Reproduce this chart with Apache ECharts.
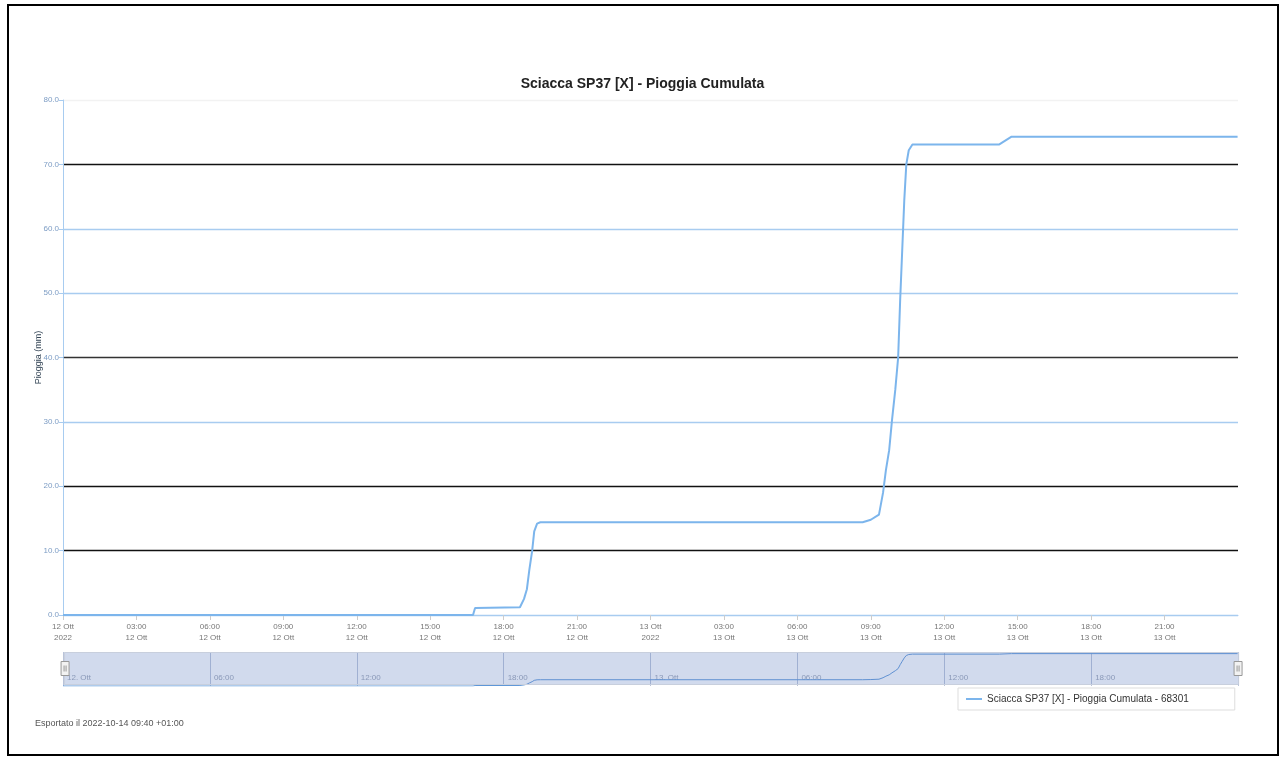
<!DOCTYPE html>
<html>
<head>
<meta charset="utf-8">
<script src="https://cdn.jsdelivr.net/npm/echarts@6/dist/echarts.min.js"></script>
<style>
html,body{margin:0;padding:0;background:#fff;}
#chart{width:1285px;height:760px;}
</style>
</head>
<body>
<div id="chart"></div>
<script>
// ---- data ----
const times = [
  '2022-10-12 00:00','2022-10-12 16:45','2022-10-12 16:50','2022-10-12 18:40','2022-10-12 18:50',
  '2022-10-12 18:57','2022-10-12 19:03','2022-10-12 19:10','2022-10-12 19:15','2022-10-12 19:22',
  '2022-10-12 19:30','2022-10-13 08:40','2022-10-13 09:00','2022-10-13 09:20','2022-10-13 09:30',
  '2022-10-13 09:37','2022-10-13 09:45','2022-10-13 09:52','2022-10-13 10:00','2022-10-13 10:07',
  '2022-10-13 10:12','2022-10-13 10:17','2022-10-13 10:22','2022-10-13 10:27','2022-10-13 10:33',
  '2022-10-13 10:42','2022-10-13 14:15','2022-10-13 14:45','2022-10-13 23:59'
];
const values = [
  0, 0, 1.1, 1.2, 2.5,
  4.0, 7.0, 10.0, 13.0, 14.2,
  14.4, 14.4, 14.8, 15.6, 19.0,
  22.5, 25.6, 30.3, 35.0, 40.0,
  49.0, 56.7, 64.4, 70.0, 72.2,
  73.1, 73.1, 74.3, 74.3
];
const chartTitle = 'Sciacca SP37 [X] - Pioggia Cumulata';
const seriesName = 'Sciacca SP37 [X] - Pioggia Cumulata - 68301';
const yAxisName = 'Pioggia (mm)';
const footerText = 'Esportato il 2022-10-14 09:40 +01:00';
const xStart = '2022-10-12 00:00';
const xEnd = '2022-10-14 00:00';
const monthLabel = 'Ott';
const yMin = 0, yMax = 80, yStep = 10;

function parse(s){
  const [d,t] = s.split(' ');
  const [Y,M,D] = d.split('-').map(Number);
  const [h,m] = t.split(':').map(Number);
  return Date.UTC(Y, M-1, D, h, m);
}
const H = 3600*1000;
const data = times.map((t,i)=>[parse(t), values[i]]);
const pad = n => (n<10?'0':'')+n;

const chart = echarts.init(document.getElementById('chart'), null, {renderer:'canvas'});
const option = {
  backgroundColor:'#fff',
  animation:false,
  title:{
    text: chartTitle, left:'center', top:72,
    textStyle:{fontFamily:'Liberation Sans, Arial', fontSize:14, fontWeight:'bold', color:'#222'}
  },
  legend:{
    left:958, top:688, width:272,
    padding:[6,46,6,8],
    borderColor:'#ddd', borderWidth:1,
    itemWidth:16, itemHeight:2, itemGap:5,
    data:[{name:seriesName, icon:'rect'}],
    textStyle:{fontFamily:'Liberation Sans, Arial', fontSize:10, color:'#333'}
  },
  grid:[
    {left:63, right:47, top:100, height:515},
    {left:63, right:47, top:652, height:34}
  ],
  xAxis:[
    {
      type:'value', gridIndex:0,
      min: parse(xStart), max: parse(xEnd), interval: 3*H,
      axisLine:{show:true, lineStyle:{color:'#a8ccf0', width:1}},
      axisTick:{show:true, length:5, lineStyle:{color:'#ccc'}},
      splitLine:{show:false},
      axisLabel:{
        showMaxLabel:false, fontSize:8, color:'#777', lineHeight:11, margin:6,
        fontFamily:'Liberation Sans, Arial',
        formatter: v => {
          const d = new Date(v);
          const day = d.getUTCDate();
          if (d.getUTCHours()===0) return day+' '+monthLabel+'\n'+d.getUTCFullYear();
          return pad(d.getUTCHours())+':00\n'+day+' '+monthLabel;
        }
      }
    },
    {
      type:'value', gridIndex:1,
      min: parse(xStart), max: parse(xEnd), interval: 6*H,
      axisLine:{show:false}, axisTick:{show:false},
      splitLine:{show:true, lineStyle:{color:'#b9c3d9', width:1}},
      axisLabel:{
        inside:true, showMaxLabel:false, fontSize:8, color:'#9aa2b4', align:'left', padding:[0,0,0,4], margin:4,
        fontFamily:'Liberation Sans, Arial',
        formatter: v => {
          const d = new Date(v);
          if (d.getUTCHours()===0) return d.getUTCDate()+'. '+monthLabel;
          return pad(d.getUTCHours())+':00';
        }
      }
    }
  ],
  yAxis:[
    {
      type:'value', gridIndex:0, min:yMin, max:yMax, interval:yStep,
      name: yAxisName, nameLocation:'middle', nameGap:20, nameRotate:90,
      nameMoveOverlap:false,
      nameTextStyle:{fontSize:9, color:'#345', fontFamily:'Liberation Sans, Arial'},
      axisLine:{show:true, lineStyle:{color:'#a8ccf0', width:1}},
      axisTick:{show:true, length:4, lineStyle:{color:'#a8ccf0'}},
      axisLabel:{fontSize:8, color:'#7c9cc4', margin:4, fontFamily:'Liberation Sans, Arial',
        formatter: v => v.toFixed(1)},
      splitLine:{show:true, lineStyle:{width:1.3,
        color:['#a8ccf0','#111','#111','#a8ccf0','#333','#a8ccf0','#a8ccf0','#111','#f2f2f2']}}
    },
    {
      type:'value', gridIndex:1, min:0, max:78,
      show:false, splitLine:{show:false}
    }
  ],
  dataZoom:[{
    type:'slider', xAxisIndex:0, filterMode:'none', start:0, end:100,
    left:63, right:47, top:652, height:33,
    backgroundColor:'rgba(0,0,0,0)',
    borderColor:'#c8cfdd',
    fillerColor:'rgba(102,133,194,0.3)',
    showDataShadow:false, showDetail:false,
    dataBackground:{lineStyle:{opacity:0}, areaStyle:{opacity:0}},
    handleIcon:'path://M0,0 L8,0 L8,14 L0,14 Z M3,4 L3,10 M5,4 L5,10',
    handleSize:14,
    handleStyle:{color:'#f2f2f2', borderColor:'#999', borderWidth:1},
    moveHandleSize:0,
    brushSelect:false
  }],
  series:[
    {
      name: seriesName, type:'line', xAxisIndex:0, yAxisIndex:0,
      data: data, symbol:'none', smooth:false,
      lineStyle:{color:'#7cb5ec', width:2}, itemStyle:{color:'#7cb5ec'}
    },
    {
      name:'nav', type:'line', xAxisIndex:1, yAxisIndex:1,
      data: data, symbol:'none',
      lineStyle:{color:'#5d96d8', width:1}, silent:true
    }
  ],
  graphic:[
    {type:'rect', shape:{x:8, y:5, width:1270, height:750}, style:{fill:'none', stroke:'#000', lineWidth:2}, silent:true},
    {type:'text', left:35, top:719, style:{text:footerText, fontSize:9, fill:'#555', fontFamily:'Liberation Sans, Arial'}}
  ]
};
chart.setOption(option);
</script>
</body>
</html>
